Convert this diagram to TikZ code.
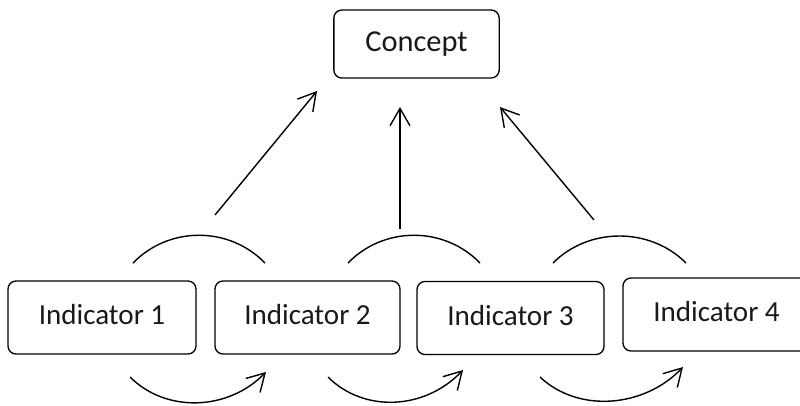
\documentclass[tikz,border=0pt]{standalone}
\usepackage{fontspec}
\setmainfont{Carlito}
\usetikzlibrary{arrows.meta}
\begin{document}
\begin{tikzpicture}[x=0.75pt,y=-0.75pt,
  ibox/.style={draw, line width=1pt, rounded corners=6pt, inner sep=0pt,
    minimum height=54.75pt, text depth=4pt, font=\fontsize{21.8}{26}\selectfont, text=black!90},
  conn/.style={line width=1.05pt},
  arr/.style={conn, -{Straight Barb[length=13pt,width=15pt,line width=1.05pt]}}]
\useasboundingbox (0,0) rectangle (800,405);
% boxes
\node[ibox, minimum width=124pt, minimum height=51pt, font=\fontsize{22.8}{27}\selectfont] (c) at (416.5,44) {Concept};
\node[ibox, minimum width=141pt] (i1) at (102,317.5) {Indicator 1};
\node[ibox, minimum width=138.75pt] (i2) at (307.5,317.5) {Indicator 2};
\node[ibox, minimum width=140.25pt] (i3) at (510.5,318) {Indicator 3};
\node[ibox, minimum width=140.25pt] (i4) at (716.5,314.5) {Indicator 4};
% free ends of the arrows to the concept
\coordinate (s1) at (215,215); \coordinate (e1) at (317,91);
\coordinate (s2) at (400,229); \coordinate (e2) at (400,107);
\coordinate (s3) at (594,220); \coordinate (e3) at (500,107);
\draw[arr] (s1) -- (e1);
\draw[arr] (s2) -- (e2);
\draw[arr] (s3) -- (e3);
% upper arcs
\coordinate (ua1) at (133,263); \coordinate (ub1) at (265,263);
\coordinate (ua2) at (348,263); \coordinate (ub2) at (480,263);
\coordinate (ua3) at (553,263); \coordinate (ub3) at (686,263);
\draw[conn] (ua1) .. controls (169,226) and (229,226) .. (ub1);
\draw[conn] (ua2) .. controls (384,226) and (444,226) .. (ub2);
\draw[conn] (ua3) .. controls (589,227) and (650,227) .. (ub3);
% lower arcs
\coordinate (la1) at (130,377); \coordinate (lb1) at (266,372);
\coordinate (la2) at (328,377); \coordinate (lb2) at (463,370);
\coordinate (la3) at (540,377); \coordinate (lb3) at (683,367);
\draw[arr] (la1) .. controls (166,413) and (228,411) .. (lb1);
\draw[arr] (la2) .. controls (364,413) and (425,410) .. (lb2);
\draw[arr] (la3) .. controls (578,413) and (644,408) .. (lb3);
\end{tikzpicture}
\end{document}
